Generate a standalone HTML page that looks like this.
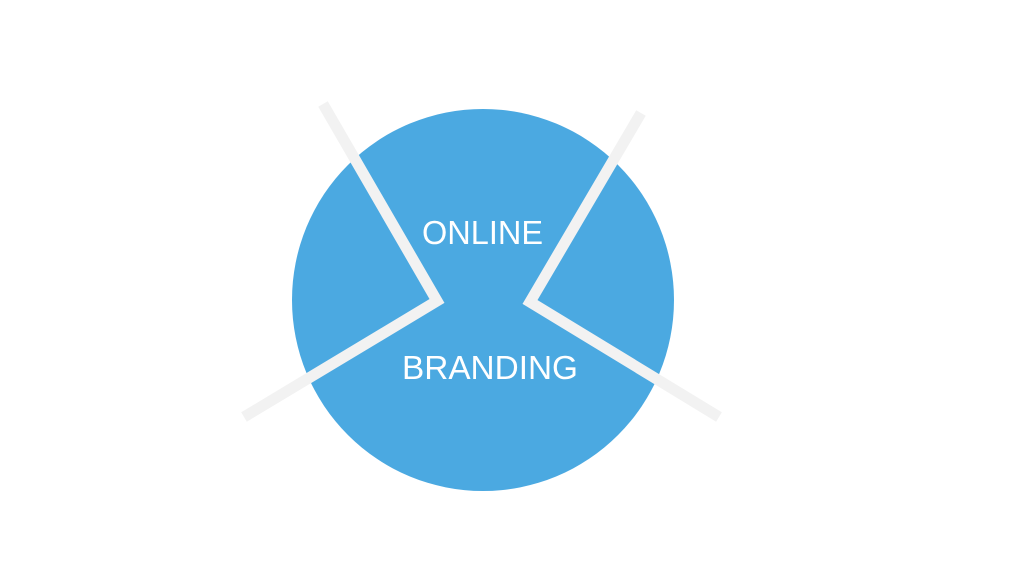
<!DOCTYPE html>
<html><head><style>html,body{margin:0;padding:0;background:#fff;}</style></head>
<body>
<svg width="1023" height="575" viewBox="0 0 1023 575" xmlns="http://www.w3.org/2000/svg">
<circle cx="483" cy="300" r="191" fill="#4ba9e1"/>
<polyline points="323,104 437,301 244,417" fill="none" stroke="#f2f2f2" stroke-width="11" stroke-linejoin="miter" stroke-miterlimit="10"/>
<polyline points="641,113 530,302 719,417" fill="none" stroke="#f2f2f2" stroke-width="11" stroke-linejoin="miter" stroke-miterlimit="10"/>
<text x="482.5" y="244" text-anchor="middle" font-family="Liberation Sans, sans-serif" font-size="33" fill="#fff" textLength="121" lengthAdjust="spacingAndGlyphs">ONLINE</text>
<text x="490" y="379" text-anchor="middle" font-family="Liberation Sans, sans-serif" font-size="33" fill="#fff" textLength="176" lengthAdjust="spacingAndGlyphs">BRANDING</text>
</svg>
</body></html>
